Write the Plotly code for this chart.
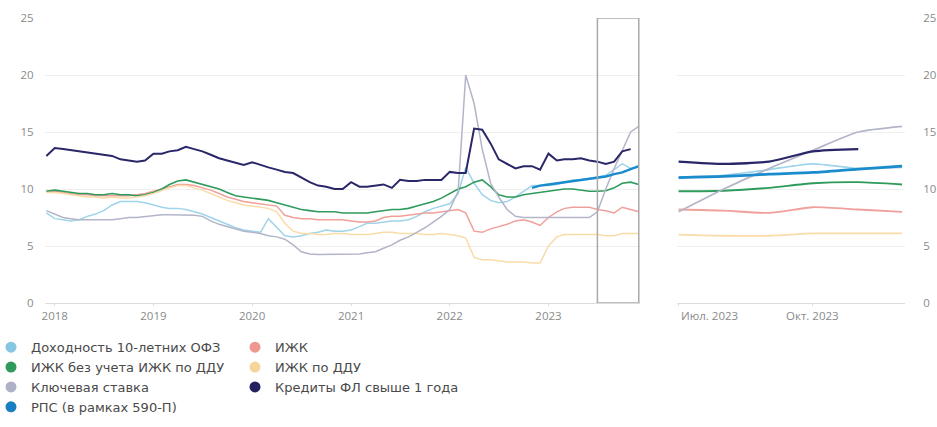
import pandas as pd
import plotly.graph_objects as go

months = pd.date_range("2017-12-01", "2023-12-01", freq="MS")

ofz = [7.9, 7.4, 7.3, 7.2, 7.3, 7.6, 7.8, 8.1, 8.6, 8.9, 8.9, 8.9,
       8.8, 8.6, 8.4, 8.3, 8.3, 8.2, 8.0, 7.8, 7.5, 7.2, 6.9, 6.6,
       6.4, 6.3, 6.2, 7.4, 6.6, 5.9, 5.8, 5.9, 6.1, 6.2, 6.4, 6.3,
       6.3, 6.4, 6.7, 7.0, 7.0, 7.1, 7.2, 7.2, 7.3, 7.6, 8.0, 8.3,
       8.5, 8.7, 9.6, 11.9, 10.5, 9.5, 9.0, 8.8, 8.9, 9.3, 9.8, 10.3,
       10.3, 10.3, 10.4, 10.6, 10.8, 10.8, 10.9, 11.05, 11.2, 11.7, 12.2, 11.8, 11.9]

izhk = [9.8, 9.8, 9.7, 9.6, 9.5, 9.5, 9.4, 9.4, 9.4, 9.4, 9.4, 9.5,
        9.6, 9.8, 10.0, 10.2, 10.4, 10.4, 10.3, 10.1, 9.9, 9.6, 9.3, 9.1,
        8.9, 8.8, 8.7, 8.6, 8.5, 7.7, 7.5, 7.4, 7.4, 7.3, 7.3, 7.3,
        7.3, 7.2, 7.1, 7.1, 7.2, 7.5, 7.6, 7.6, 7.7, 7.8, 7.9, 7.9,
        8.0, 8.1, 8.2, 7.9, 6.3, 6.2, 6.5, 6.7, 6.9, 7.2, 7.3, 7.1,
        6.8, 7.5, 8.0, 8.3, 8.4, 8.4, 8.4, 8.2, 8.1, 7.9, 8.4, 8.2, 8.0]

izhk_ex_ddu = [9.8, 9.9, 9.8, 9.7, 9.6, 9.6, 9.5, 9.5, 9.6, 9.5, 9.5, 9.4,
               9.5, 9.7, 10.0, 10.4, 10.7, 10.8, 10.6, 10.4, 10.2, 10.0, 9.7, 9.4,
               9.3, 9.2, 9.1, 9.0, 8.8, 8.6, 8.4, 8.2, 8.1, 8.0, 8.0, 8.0,
               7.9, 7.9, 7.9, 7.9, 8.0, 8.1, 8.2, 8.2, 8.3, 8.5, 8.7, 8.9,
               9.2, 9.6, 10.0, 10.2, 10.6, 10.8, 10.2, 9.5, 9.3, 9.3, 9.5, 9.6,
               9.7, 9.8, 9.9, 10.0, 10.0, 9.9, 9.8, 9.8, 9.85, 10.1, 10.5, 10.6, 10.4]

izhk_ddu = [9.7, 9.7, 9.6, 9.5, 9.4, 9.3, 9.3, 9.2, 9.3, 9.2, 9.2, 9.3,
            9.4, 9.6, 9.9, 10.1, 10.3, 10.3, 10.1, 9.9, 9.6, 9.3, 9.0, 8.8,
            8.6, 8.5, 8.4, 8.3, 8.0, 7.0, 6.3, 6.1, 6.1, 6.0, 6.0, 6.1,
            6.1, 6.0, 6.0, 6.0, 6.1, 6.2, 6.2, 6.1, 6.1, 6.1, 6.0, 6.0,
            6.1, 6.0, 5.9, 5.7, 4.0, 3.8, 3.8, 3.7, 3.6, 3.6, 3.6, 3.5,
            3.5, 5.0, 5.8, 6.0, 6.0, 6.0, 6.0, 6.0, 5.9, 5.9, 6.1, 6.1, 6.1]

key_rate = [8.1, 7.8, 7.5, 7.4, 7.3, 7.3, 7.3, 7.3, 7.3, 7.4, 7.5, 7.5,
            7.6, 7.7, 7.75, 7.75, 7.75, 7.75, 7.7, 7.6, 7.2, 6.9, 6.7, 6.5,
            6.3, 6.2, 6.1, 5.9, 5.8, 5.6, 5.1, 4.5, 4.3, 4.25, 4.25, 4.25,
            4.25, 4.25, 4.3, 4.4, 4.5, 4.8, 5.1, 5.5, 5.8, 6.2, 6.6, 7.1,
            7.6, 8.2, 9.8, 20.0, 17.5, 13.5, 10.5, 9.3, 8.2, 7.6, 7.5, 7.5,
            7.5, 7.5, 7.5, 7.5, 7.5, 7.5, 7.5, 8.0, 10.0, 11.8, 13.4, 15.0, 15.5]

credits = [12.9, 13.6, 13.5, 13.4, 13.3, 13.2, 13.1, 13.0, 12.9, 12.6, 12.5, 12.4,
           12.5, 13.1, 13.1, 13.3, 13.4, 13.7, 13.5, 13.3, 13.0, 12.7, 12.5, 12.3,
           12.1, 12.35, 12.1, 11.9, 11.7, 11.5, 11.4, 11.0, 10.6, 10.3, 10.2, 10.0,
           10.0, 10.6, 10.2, 10.2, 10.3, 10.4, 10.1, 10.8, 10.7, 10.7, 10.8, 10.8,
           10.8, 11.5, 11.4, 11.4, 15.3, 15.2, 14.0, 12.6, 12.2, 11.8, 12.0, 12.0,
           11.7, 13.1, 12.5, 12.6, 12.6, 12.7, 12.5, 12.4, 12.2, 12.4, 13.3, 13.5, None]

rps_months = pd.date_range("2022-11-01", "2023-12-01", freq="MS")
rps = [10.1, 10.3, 10.4, 10.5, 10.6, 10.7, 10.8, 10.9, 11.0, 11.1, 11.3, 11.45, 11.75, 12.0]

zoom_start, zoom_end = pd.Timestamp("2023-07-01"), pd.Timestamp("2023-12-01")
y_ticks = [0, 5, 10, 15, 20, 25]

series = [
    ("Доходность 10-летних ОФЗ", months, ofz, "#9fd4ea", 1.5, "legend"),
    ("ИЖК", months, izhk, "#f0a09b", 1.5, "legend2"),
    ("ИЖК без учета ИЖК по ДДУ", months, izhk_ex_ddu, "#2e9b5c", 1.6, "legend"),
    ("ИЖК по ДДУ", months, izhk_ddu, "#f9dca8", 1.5, "legend2"),
    ("Ключевая ставка", months, key_rate, "#b3b5c8", 1.5, "legend"),
    ("Кредиты ФЛ свыше 1 года", months, credits, "#2a2769", 2.0, "legend2"),
    ("РПС (в рамках 590-П)", rps_months, rps, "#1a8bcc", 2.4, "legend"),
]
legend_marker = {
    "Доходность 10-летних ОФЗ": "#86c6e0",
    "ИЖК": "#ee9690",
    "ИЖК без учета ИЖК по ДДУ": "#2e9b5c",
    "ИЖК по ДДУ": "#f6d49a",
    "Ключевая ставка": "#aeb1c6",
    "Кредиты ФЛ свыше 1 года": "#25205f",
    "РПС (в рамках 590-П)": "#1a7fc0",
}

fig = go.Figure()
for name, xs, ys, color, width, leg in series:
    fig.add_trace(go.Scatter(x=xs, y=ys, mode="lines", name=name, showlegend=False,
                             line=dict(color=color, width=width), xaxis="x", yaxis="y"))
    s = pd.Series(ys, index=xs)
    s = s[(s.index >= zoom_start) & (s.index <= zoom_end)]
    fig.add_trace(go.Scatter(x=s.index, y=s.values, mode="lines", showlegend=False,
                             line=dict(color=color, width=width + 0.3, shape="spline", smoothing=0.6),
                             xaxis="x2", yaxis="y2"))
    fig.add_trace(go.Scatter(x=[None], y=[None], mode="markers", name=name, legend=leg,
                             marker=dict(color=legend_marker[name], size=11, symbol="circle"),
                             xaxis="x", yaxis="y"))

fig.add_shape(type="rect", xref="x", yref="y", x0=zoom_start, x1=zoom_end, y0=0, y1=25,
              line=dict(color="#a9a9a9", width=1.5), fillcolor="rgba(0,0,0,0)", layer="above")

tick_font = dict(family="Open Sans, sans-serif", size=11.5, color="#8a8a8a")
grid = "#efefef"

fig.add_annotation(x=zoom_start, y=0, xref="x2", yref="paper", text="Июл. 2023", showarrow=False,
                   xanchor="left", yanchor="top", yshift=-3, font=tick_font)
fig.add_annotation(x=pd.Timestamp("2023-10-01"), y=0, xref="x2", yref="paper", text="Окт. 2023",
                   showarrow=False, xanchor="center", yanchor="top", yshift=-3, font=tick_font)

legend_font = dict(family="DejaVu Sans, sans-serif", size=13, color="#4a4a4a")

fig.update_layout(
    width=937, height=427,
    margin=dict(l=45, r=32, t=18, b=124, autoexpand=False),
    paper_bgcolor="white", plot_bgcolor="white",
    font=dict(family="Open Sans, sans-serif", color="#555"),
    xaxis=dict(domain=[0, 0.692], type="date", automargin=False,
               range=[pd.Timestamp("2017-11-26"), pd.Timestamp("2023-12-06")],
               tickvals=pd.date_range("2018-01-01", "2023-01-01", freq="YS"),
               tickformat="%Y", tickfont=tick_font, showgrid=False,
               showline=True, linecolor="#dcdcdc", linewidth=1,
               ticks="outside", ticklen=2, tickcolor="#dcdcdc", zeroline=False),
    yaxis=dict(range=[0, 25], tickvals=y_ticks, tickfont=tick_font, gridcolor=grid,
               automargin=False, ticks="outside", ticklen=8, tickcolor="rgba(0,0,0,0)",
               zeroline=False, showline=False),
    xaxis2=dict(domain=[0.735, 1], type="date", anchor="y2", automargin=False,
                range=[pd.Timestamp("2023-06-30"), pd.Timestamp("2023-12-03")],
                tickvals=[zoom_start, pd.Timestamp("2023-10-01")], showticklabels=False,
                showgrid=False, showline=True, linecolor="#dcdcdc", linewidth=1,
                ticks="outside", ticklen=2, tickcolor="#dcdcdc", zeroline=False),
    yaxis2=dict(range=[0, 25], tickvals=y_ticks, tickfont=tick_font, gridcolor=grid,
                anchor="x2", side="right", automargin=False, ticks="outside", ticklen=15,
                tickcolor="rgba(0,0,0,0)", zeroline=False, showline=False),
    legend=dict(orientation="v", xref="paper", yref="container", x=-0.0628, xanchor="left",
                y=0.222, yanchor="top", font=legend_font,
                tracegroupgap=0, itemclick=False, bgcolor="rgba(0,0,0,0)"),
    legend2=dict(orientation="v", xref="container", yref="container", x=0.2508, xanchor="left",
                 y=0.222, yanchor="top", font=legend_font,
                 tracegroupgap=0, itemclick=False, bgcolor="rgba(0,0,0,0)"),
    showlegend=True,
)

fig.write_html("out.html", config={"displayModeBar": False},
               post_script="document.body.style.margin='0px';")
